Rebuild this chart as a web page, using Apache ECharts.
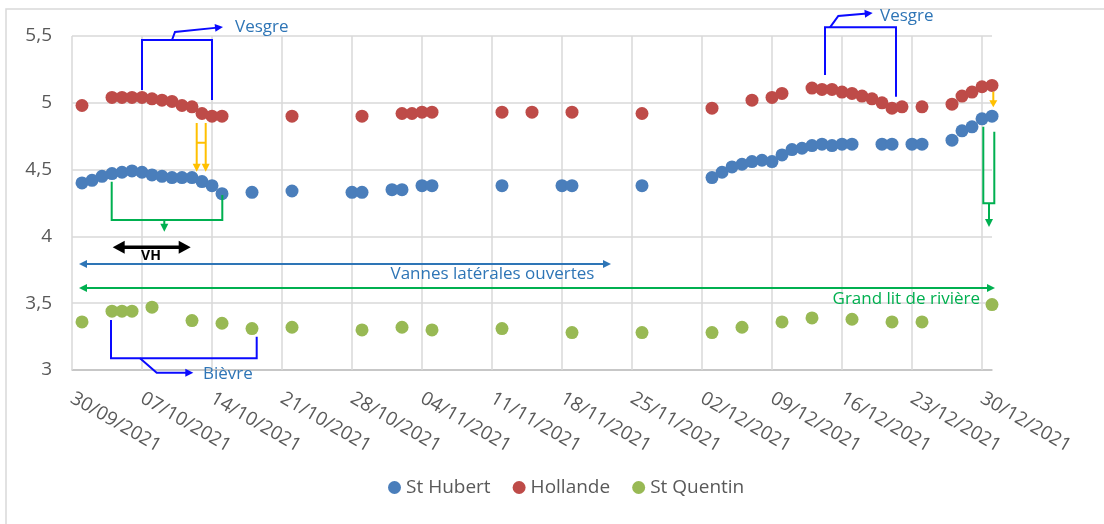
<!DOCTYPE html>
<html><head><meta charset="utf-8">
<script src="https://cdn.jsdelivr.net/npm/echarts@6/dist/echarts.min.js"></script>
<style>html,body{margin:0;padding:0;background:#fff}#chart{width:1104px;height:524px}</style>
</head><body><div id="chart"></div>
<script>
const tickLabels = ['30/09/2021','07/10/2021','14/10/2021','21/10/2021','28/10/2021','04/11/2021','11/11/2021','18/11/2021','25/11/2021','02/12/2021','09/12/2021','16/12/2021','23/12/2021','30/12/2021'];
const yTicks = [3, 3.5, 4, 4.5, 5, 5.5];
const seriesNames = ['St Hubert', 'Hollande', 'St Quentin'];

const hubertDates = ['01/10/2021','02/10/2021','03/10/2021','04/10/2021','05/10/2021','06/10/2021','07/10/2021','08/10/2021','09/10/2021','10/10/2021','11/10/2021','12/10/2021','13/10/2021','14/10/2021','15/10/2021','18/10/2021','22/10/2021','28/10/2021','29/10/2021',
  '01/11/2021','02/11/2021','04/11/2021','05/11/2021','12/11/2021','18/11/2021','19/11/2021','26/11/2021',
  '03/12/2021','04/12/2021','05/12/2021','06/12/2021','07/12/2021','08/12/2021','09/12/2021','10/12/2021','11/12/2021','12/12/2021','13/12/2021','14/12/2021','15/12/2021','16/12/2021','17/12/2021','20/12/2021','21/12/2021','23/12/2021','24/12/2021','27/12/2021','28/12/2021','29/12/2021','30/12/2021','31/12/2021'];
const hubertValues = [4.40,4.42,4.45,4.47,4.48,4.49,4.48,4.46,4.45,4.44,4.44,4.44,4.41,4.38,4.32,4.33,4.34,4.33,4.33,
  4.35,4.35,4.38,4.38,4.38,4.38,4.38,4.38,
  4.44,4.48,4.52,4.54,4.56,4.57,4.56,4.61,4.65,4.66,4.68,4.69,4.68,4.69,4.69,4.69,4.69,4.69,4.69,4.72,4.79,4.82,4.88,4.90];

const hollandeDates = ['01/10/2021','04/10/2021','05/10/2021','06/10/2021','07/10/2021','08/10/2021','09/10/2021','10/10/2021','11/10/2021','12/10/2021','13/10/2021','14/10/2021','15/10/2021','22/10/2021','29/10/2021',
  '02/11/2021','03/11/2021','04/11/2021','05/11/2021','12/11/2021','15/11/2021','19/11/2021','26/11/2021',
  '03/12/2021','07/12/2021','09/12/2021','10/12/2021','13/12/2021','14/12/2021','15/12/2021','16/12/2021','17/12/2021','18/12/2021','19/12/2021','20/12/2021','21/12/2021','22/12/2021','24/12/2021','27/12/2021','28/12/2021','29/12/2021','30/12/2021','31/12/2021'];
const hollandeValues = [4.98,5.04,5.04,5.04,5.04,5.03,5.02,5.01,4.98,4.97,4.92,4.90,4.90,4.90,4.90,
  4.92,4.92,4.93,4.93,4.93,4.93,4.93,4.92,
  4.96,5.02,5.04,5.07,5.11,5.10,5.10,5.08,5.07,5.05,5.03,5.00,4.96,4.97,4.97,4.99,5.05,5.08,5.12,5.13];

const quentinDates = ['01/10/2021','04/10/2021','05/10/2021','06/10/2021','08/10/2021','12/10/2021','15/10/2021','18/10/2021','22/10/2021','29/10/2021',
  '02/11/2021','05/11/2021','12/11/2021','19/11/2021','26/11/2021',
  '03/12/2021','06/12/2021','10/12/2021','13/12/2021','17/12/2021','21/12/2021','24/12/2021','31/12/2021'];
const quentinValues = [3.36,3.44,3.44,3.44,3.47,3.37,3.35,3.31,3.32,3.30,
  3.32,3.30,3.31,3.28,3.28,
  3.28,3.32,3.36,3.39,3.38,3.36,3.36,3.49];

const ORIGIN = Date.UTC(2021, 8, 30);
function dayOf(s) { const p = s.split('/').map(Number); return Math.round((Date.UTC(p[2], p[1] - 1, p[0]) - ORIGIN) / 86400000); }
function pairs(dates, vals) { return dates.map((d, i) => [dayOf(d), vals[i]]); }
const tickDays = tickLabels.map(dayOf);
const lastDay = dayOf('31/12/2021');

const FONT = '"Open Sans", "Noto Sans", sans-serif';
const colors = ['#4A7EBB', '#BE4B48', '#98B954'];
const chart = echarts.init(document.getElementById('chart'));

const option = {
  animation: false,
  color: colors,
  grid: { left: 72, right: 1104 - 72 - lastDay * 10, top: 36, bottom: 154 },
  xAxis: {
    type: 'value', min: 0, max: lastDay, interval: 7,
    axisLine: { show: true, lineStyle: { color: '#BFBFBF', width: 1.5 } },
    axisTick: { show: false },
    splitLine: { show: false },
    axisLabel: {
      rotate: -30, margin: 27, color: '#595959', fontSize: 19, fontFamily: FONT,
      formatter: v => { const i = tickDays.indexOf(v); return i >= 0 ? tickLabels[i] : ''; }
    }
  },
  yAxis: {
    type: 'value', min: yTicks[0], max: yTicks[yTicks.length - 1], interval: 0.5,
    axisLine: { show: false }, axisTick: { show: false },
    splitLine: { lineStyle: { color: '#D9D9D9', width: 1.5 } },
    axisLabel: { color: '#595959', fontSize: 19, fontFamily: FONT, margin: 20,
      formatter: v => String(v).replace('.', ',') }
  },
  legend: {
    data: seriesNames, left: 383, top: 473, icon: 'circle', itemWidth: 13, itemHeight: 13, itemGap: 22,
    textStyle: { color: '#595959', fontSize: 19, fontFamily: FONT }
  },
  series: [
    { name: seriesNames[0], type: 'scatter', symbolSize: 13, itemStyle: { opacity: 1 }, data: pairs(hubertDates, hubertValues), z: 3,
      markLine: { silent: true, z: 1, symbol: ['none', 'none'], label: { show: false }, animation: false,
        lineStyle: { color: '#D9D9D9', width: 1.5, type: 'solid' }, emphasis: { disabled: true },
        data: tickDays.map(d => ({ xAxis: d })) } },
    { name: seriesNames[1], type: 'scatter', symbolSize: 13, itemStyle: { opacity: 1 }, data: pairs(hollandeDates, hollandeValues), z: 3 },
    { name: seriesNames[2], type: 'scatter', symbolSize: 13, itemStyle: { opacity: 1 }, data: pairs(quentinDates, quentinValues), z: 3 }
  ]
};
chart.setOption(option);

// ---- annotations (positioned in data coordinates) ----
const P = (d, v) => chart.convertToPixel({ gridIndex: 0 }, [d, v]);
const BLUE_LINE = '#0A0AFF', BLUE_TEXT = '#2E75B6', GREEN = '#00B050', YELLOW = '#FFC000';
const els = [];
function poly(pts, color, w) {
  els.push({ type: 'polyline', silent: true, z: 50, shape: { points: pts }, style: { stroke: color, lineWidth: w, fill: null, lineJoin: 'miter' } });
}
function head(tip, prev, color, len, hw) {
  const dx = tip[0] - prev[0], dy = tip[1] - prev[1], L = Math.hypot(dx, dy), ux = dx / L, uy = dy / L;
  const bx = tip[0] - ux * len, by = tip[1] - uy * len;
  els.push({ type: 'polygon', silent: true, z: 51, shape: { points: [tip, [bx - uy * hw, by + ux * hw], [bx + uy * hw, by - ux * hw]] }, style: { fill: color } });
  return [tip[0] - ux * len * 0.7, tip[1] - uy * len * 0.7];
}
function arrow(dataPts, color, w, start, end, len, hw) {
  const pts = dataPts.map(p => P(p[0], p[1]));
  const n = pts.length;
  const a = pts.slice();
  if (end) a[n - 1] = head(pts[n - 1], pts[n - 2], color, len, hw);
  if (start) a[0] = head(pts[0], pts[1], color, len, hw);
  poly(a, color, w);
}
function line(dataPts, color, w) { poly(dataPts.map(p => P(p[0], p[1])), color, w); }
function label(d, v, text, color, size, align, weight) {
  const p = P(d, v);
  els.push({ type: 'text', silent: true, z: 52, x: p[0], y: p[1],
    style: { text: text, fill: color, fontSize: size, fontFamily: FONT, fontWeight: weight || 'normal', align: align, verticalAlign: 'middle' } });
}

// Vesgre (left)
line([[7.0, 5.096], [7.0, 5.470], [14.0, 5.470], [14.0, 5.021]], BLUE_LINE, 2);
arrow([[10.0, 5.470], [10.3, 5.530], [15.1, 5.567]], BLUE_LINE, 2, false, true, 8, 4);
label(16.3, 5.567, 'Vesgre', BLUE_TEXT, 17, 'left');
// yellow H arrows
arrow([[12.47, 4.849], [12.47, 4.484]], YELLOW, 2, false, true, 8, 4);
arrow([[13.37, 4.849], [13.37, 4.484]], YELLOW, 2, false, true, 8, 4);
line([[12.47, 4.701], [13.37, 4.701]], YELLOW, 2);
// green bracket
line([[3.97, 4.409], [3.97, 4.123], [15.03, 4.123], [15.03, 4.310]], GREEN, 2);
arrow([[9.23, 4.123], [9.23, 4.035]], GREEN, 2, false, true, 8, 4);
// VH
arrow([[4.07, 3.918], [11.87, 3.918]], '#000000', 3.5, true, true, 12, 6.5);
label(7.9, 3.853, 'VH', '#000000', 14, 'center', 'bold');
// Vannes latérales ouvertes
arrow([[0.7, 3.793], [53.9, 3.793]], BLUE_TEXT, 2, true, true, 8, 4);
label(42.05, 3.719, 'Vannes latérales ouvertes', BLUE_TEXT, 17, 'center');
// Grand lit de rivière
arrow([[0.7, 3.614], [92.3, 3.614]], GREEN, 2, true, true, 8, 4);
label(90.8, 3.531, 'Grand lit de rivière', GREEN, 17, 'right');
// Bièvre
line([[3.9, 3.374], [3.9, 3.088], [18.47, 3.088], [18.47, 3.249]], BLUE_LINE, 2);
arrow([[6.8, 3.088], [8.47, 2.980], [12.13, 2.980]], BLUE_LINE, 2, false, true, 8, 4);
label(13.1, 2.972, 'Bièvre', BLUE_TEXT, 17, 'left');
// Vesgre (right)
line([[75.3, 5.208], [75.3, 5.565], [82.4, 5.565], [82.4, 5.046]], BLUE_LINE, 2);
arrow([[75.8, 5.565], [76.63, 5.650], [80.07, 5.672]], BLUE_LINE, 2, false, true, 8, 4);
label(80.8, 5.645, 'Vesgre', BLUE_TEXT, 17, 'left');
// right yellow arrow
arrow([[92.13, 5.083], [92.13, 4.966]], YELLOW, 2, false, true, 7, 4);
// right green bracket
line([[91.13, 4.821], [91.13, 4.248], [92.23, 4.248], [92.23, 4.784]], GREEN, 2);
arrow([[91.7, 4.248], [91.7, 4.070]], GREEN, 2, false, true, 8, 4);

// chart frame
els.push({ type: 'rect', silent: true, z: 0, shape: { x: 6, y: 9, width: 1200, height: 1000 }, style: { stroke: '#D9D9D9', lineWidth: 1.5, fill: null } });

chart.setOption({ graphic: { elements: els } });
</script>
</body></html>
